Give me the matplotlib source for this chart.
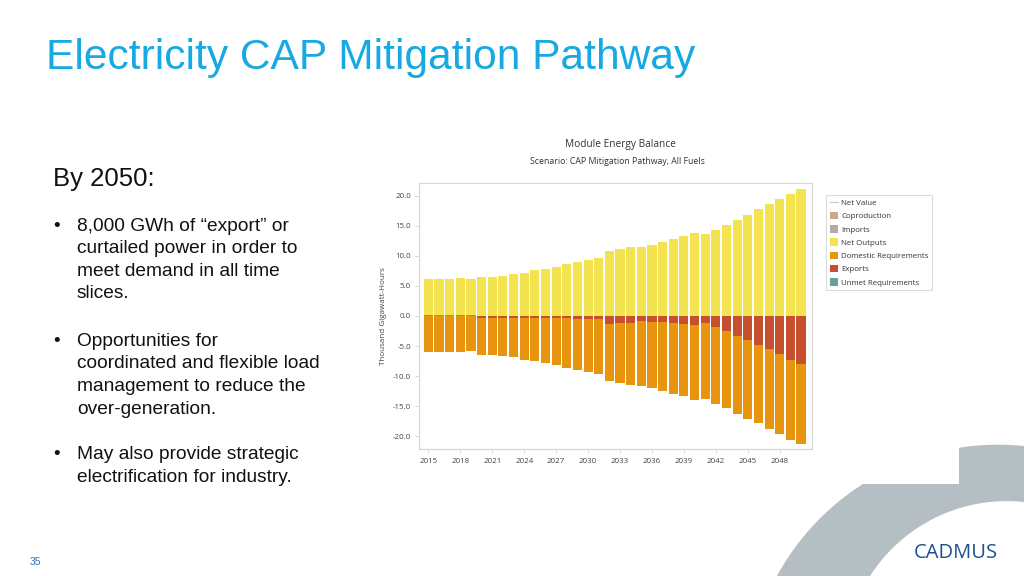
import numpy as np
import matplotlib

matplotlib.use("Agg")
import matplotlib.pyplot as plt
from matplotlib.patches import Circle, Polygon, Patch
from matplotlib.lines import Line2D

TITLE_BLUE = "#17a9e1"
NAVY = "#1d4f91"
YELLOW = "#f3e44f"
ORANGE = "#e7950e"
RED = "#c6502d"
TEAL = "#5fa59a"
COPROD = "#c9a98a"
IMPORTS = "#b3a9aa"
ARC_GREY = "#b4bec3"
SPINE = "#d4d4d4"
TXT = "#444444"

years = np.arange(2015, 2051)
net_outputs = [6.0, 6.0, 6.0, 6.1, 6.0, 6.45, 6.55, 6.7, 6.95, 7.2, 7.6, 7.8, 8.2, 8.6, 9.0, 9.3,
               9.6, 10.8, 11.1, 11.5, 11.5, 11.9, 12.4, 12.8, 13.3, 13.9, 13.6, 14.4, 15.2, 16.0,
               16.9, 17.8, 18.6, 19.5, 20.4, 21.2]
exports = [0.0, 0.0, 0.0, 0.0, 0.0, 0.35, 0.35, 0.35, 0.35, 0.4, 0.4, 0.4, 0.4, 0.4, 0.45, 0.45,
           0.45, 1.3, 1.2, 1.2, 0.9, 1.0, 1.0, 1.1, 1.3, 1.55, 1.2, 1.85, 2.5, 3.3,
           4.0, 4.85, 5.55, 6.4, 7.35, 8.0]
domestic = [6.05, 6.05, 5.95, 6.05, 5.9, 6.1, 6.2, 6.35, 6.55, 6.85, 7.15, 7.45, 7.8, 8.2, 8.5, 8.85,
            9.25, 9.5, 9.9, 10.35, 10.7, 11.05, 11.5, 11.85, 12.1, 12.5, 12.6, 12.75, 12.9, 13.0,
            13.1, 13.05, 13.25, 13.3, 13.35, 13.4]
unmet = [0.15, 0.2, 0.1, 0.2, 0.1] + [0.0] * 31

legend_labels = ["Net Value", "Coproduction", "Imports", "Net Outputs",
                 "Domestic Requirements", "Exports", "Unmet Requirements"]

bullets = [
    ["8,000 GWh of \u201cexport\u201d or", "curtailed power in order to",
     "meet demand in all time", "slices."],
    ["Opportunities for", "coordinated and flexible load",
     "management to reduce the", "over-generation."],
    ["May also provide strategic", "electrification for industry."],
]
bullet_tops = [230.7, 346.0, 459.3]

W, H = 1024, 576
fig = plt.figure(figsize=(W / 100, H / 100), dpi=100)
fig.patch.set_facecolor("white")

# slide background layer in pixel coordinates
bg = fig.add_axes([0, 0, 1, 1])
bg.set_xlim(0, W)
bg.set_ylim(H, 0)
bg.axis("off")

clip = Polygon([(700, 484), (959, 484), (959, 440), (W, 440), (W, H), (700, H)],
               closed=True, transform=bg.transData)
outer = Circle((998, 696.5), 251.8, color=ARC_GREY, lw=0)
inner = Circle((1006.9, 663.6), 162.5, color="white", lw=0)
for p in (outer, inner):
    bg.add_patch(p)
    p.set_clip_path(clip)

slide_font = "Liberation Sans"
bg.text(46, 69.5, "Electricity CAP Mitigation Pathway", color=TITLE_BLUE,
        fontsize=30.6, family=slide_font, va="baseline")
bg.text(53, 186, "By 2050:", color="#111111", fontsize=18.5, family=slide_font, va="baseline")
for lines, y0 in zip(bullets, bullet_tops):
    bg.text(53, y0, "\u2022", color="#111111", fontsize=13.8, family=slide_font, va="baseline")
    for i, ln in enumerate(lines):
        bg.text(77, y0 + i * 22.5, ln, color="#111111", fontsize=13.8,
                family=slide_font, va="baseline")
bg.text(30, 565, "35", color="#2e75b6", fontsize=7.5, family=slide_font, va="baseline")
bg.text(956, 558, "CADMUS", color=NAVY, fontsize=14.5, family="Open Sans",
        ha="center", va="baseline")

# chart
chart_font = "Open Sans"
ax = fig.add_axes([419.3 / W, (H - 449.3) / H, (811.7 - 419.3) / W, (449.3 - 183.3) / H])
ax.set_zorder(2)
bw = 0.86
ax.bar(years, unmet, bw, color=TEAL, lw=0)
ax.bar(years, net_outputs, bw, bottom=unmet, color=YELLOW, lw=0)
ax.bar(years, [-v for v in exports], bw, color=RED, lw=0)
ax.bar(years, [-v for v in domestic], bw, bottom=[-v for v in exports], color=ORANGE, lw=0)

ax.set_xlim(2014.15, 2051.0)
ax.set_ylim(-22.2, 22.1)
ax.set_yticks(np.arange(-20, 21, 5))
ax.set_yticklabels([f"{v:.1f}" for v in np.arange(-20, 21, 5)])
ax.set_xticks(np.arange(2015, 2049, 3))
for s in ax.spines.values():
    s.set_color(SPINE)
    s.set_linewidth(0.8)
ax.tick_params(length=3, width=0.6, color=SPINE, labelsize=5.7, labelcolor=TXT, pad=3)
for lab in ax.get_xticklabels() + ax.get_yticklabels():
    lab.set_family(chart_font)
ax.set_ylabel("Thousand Gigawatt-Hours", fontsize=5.8, color=TXT, family=chart_font, labelpad=4)

fig.text(620 / W, 1 - 146.5 / H, "Module Energy Balance", fontsize=7.3, color="#333333",
         family=chart_font, ha="center", va="baseline")
fig.text(617 / W, 1 - 163.5 / H, "Scenario: CAP Mitigation Pathway, All Fuels", fontsize=6.3,
         color="#333333", family=chart_font, ha="center", va="baseline")

handles = [Line2D([], [], color="#c8c8c8", lw=0.8)]
handles += [Patch(facecolor=c, edgecolor="none")
            for c in (COPROD, IMPORTS, YELLOW, ORANGE, RED, TEAL)]
leg = ax.legend(handles, legend_labels, loc="upper left", bbox_to_anchor=(826 / W, 1 - 195 / H),
                bbox_transform=fig.transFigure, prop={"family": chart_font, "size": 5.7},
                frameon=True, fancybox=False, borderpad=0.45, labelspacing=0.6,
                handlelength=1.1, handleheight=1.1, handletextpad=0.35, borderaxespad=0)
leg.get_frame().set_edgecolor(SPINE)
leg.get_frame().set_linewidth(0.8)
for t in leg.get_texts():
    t.set_color("#333333")

fig.savefig("out.png", dpi=100)
